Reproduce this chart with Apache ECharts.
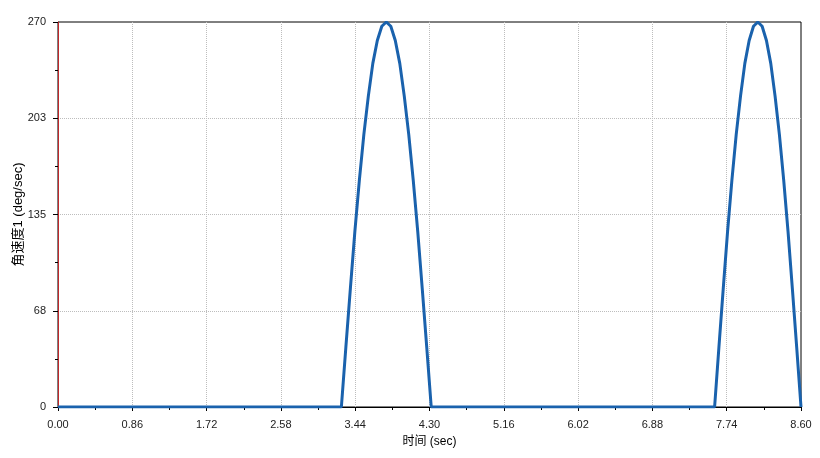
<!DOCTYPE html>
<html>
<head>
<meta charset="utf-8">
<script src="https://cdn.jsdelivr.net/npm/echarts@6/dist/echarts.min.js"></script>
<style>
html,body{margin:0;padding:0;background:#fff;}
#chart{width:820px;height:458px;}
</style>
</head>
<body>
<div id="chart"></div>
<script>
// Time (sec) samples
var timeSec = [
  0.00, 3.28,
  3.332, 3.384, 3.436, 3.488, 3.540, 3.592, 3.644, 3.696, 3.748, 3.800,
  3.852, 3.904, 3.956, 4.008, 4.060, 4.112, 4.164, 4.216, 4.268, 4.320,
  7.60,
  7.65, 7.70, 7.75, 7.80, 7.85, 7.90, 7.95, 8.00, 8.05, 8.10,
  8.15, 8.20, 8.25, 8.30, 8.35, 8.40, 8.45, 8.50, 8.55, 8.60
];
// Angular velocity 1 (deg/sec)
var angVel = [
  0, 0,
  42, 83, 123, 159, 191, 218, 241, 257, 267, 270,
  267, 257, 241, 218, 191, 159, 123, 83, 42, 0,
  0,
  42, 83, 123, 159, 191, 218, 241, 257, 267, 270,
  267, 257, 241, 218, 191, 159, 123, 83, 42, 0
];
var xTicks = {min: 0, max: 8.6, interval: 0.86};
var yTicks = {min: 0, max: 270, interval: 67.5};

var seriesData = timeSec.map(function (t, i) { return [t, angVel[i]]; });

var chart = echarts.init(document.getElementById('chart'), null, {renderer: 'canvas'});
var fontFam = '"Liberation Sans", Arial, "Noto Sans CJK SC", sans-serif';
chart.setOption({
  animation: false,
  backgroundColor: '#ffffff',
  grid: {
    left: 58, right: 19, top: 22, bottom: 51,
    containLabel: false,
    outerBoundsMode: 'none',
    show: true, borderColor: '#000000', borderWidth: 1, backgroundColor: 'transparent'
  },
  xAxis: {
    type: 'value',
    min: xTicks.min, max: xTicks.max, interval: xTicks.interval,
    name: '时间 (sec)',
    nameLocation: 'middle',
    nameGap: 29,
    nameMoveOverlap: false,
    nameTextStyle: {fontSize: 12, color: '#000', fontFamily: fontFam},
    axisLine: {show: true, onZero: false, lineStyle: {color: '#000', width: 1}},
    axisTick: {show: true, length: 4, lineStyle: {color: '#000'}},
    minorTick: {show: true, splitNumber: 2, length: 3, lineStyle: {color: '#000'}},
    axisLabel: {
      fontSize: 11, color: '#222', fontFamily: fontFam, margin: 12,
      formatter: function (v) { return v.toFixed(2); }
    },
    splitLine: {show: true, showMinLine: false, showMaxLine: false,
      lineStyle: {color: '#bdbdbd', type: 'dotted', width: 1}}
  },
  yAxis: {
    type: 'value',
    min: yTicks.min, max: yTicks.max, interval: yTicks.interval,
    name: '角速度1 (deg/sec)',
    nameLocation: 'middle',
    nameRotate: 90,
    nameGap: 33,
    nameMoveOverlap: false,
    nameTextStyle: {fontSize: 13, color: '#000', fontFamily: fontFam},
    axisLine: {show: true, onZero: false, lineStyle: {color: '#c0282a', width: 1}},
    axisTick: {show: true, length: 5, lineStyle: {color: '#000'}},
    minorTick: {show: true, splitNumber: 2, length: 3, lineStyle: {color: '#000'}},
    axisLabel: {
      fontSize: 11, color: '#222', fontFamily: fontFam, margin: 12,
      formatter: function (v) { return String(Math.round(v)); }
    },
    splitLine: {show: true, showMinLine: false, showMaxLine: false,
      lineStyle: {color: '#bdbdbd', type: 'dotted', width: 1}}
  },
  series: [{
    type: 'line',
    data: seriesData,
    showSymbol: false,
    smooth: false,
    lineStyle: {color: '#1a62ad', width: 3},
    itemStyle: {color: '#1a62ad'}
  }]
});
</script>
</body>
</html>
